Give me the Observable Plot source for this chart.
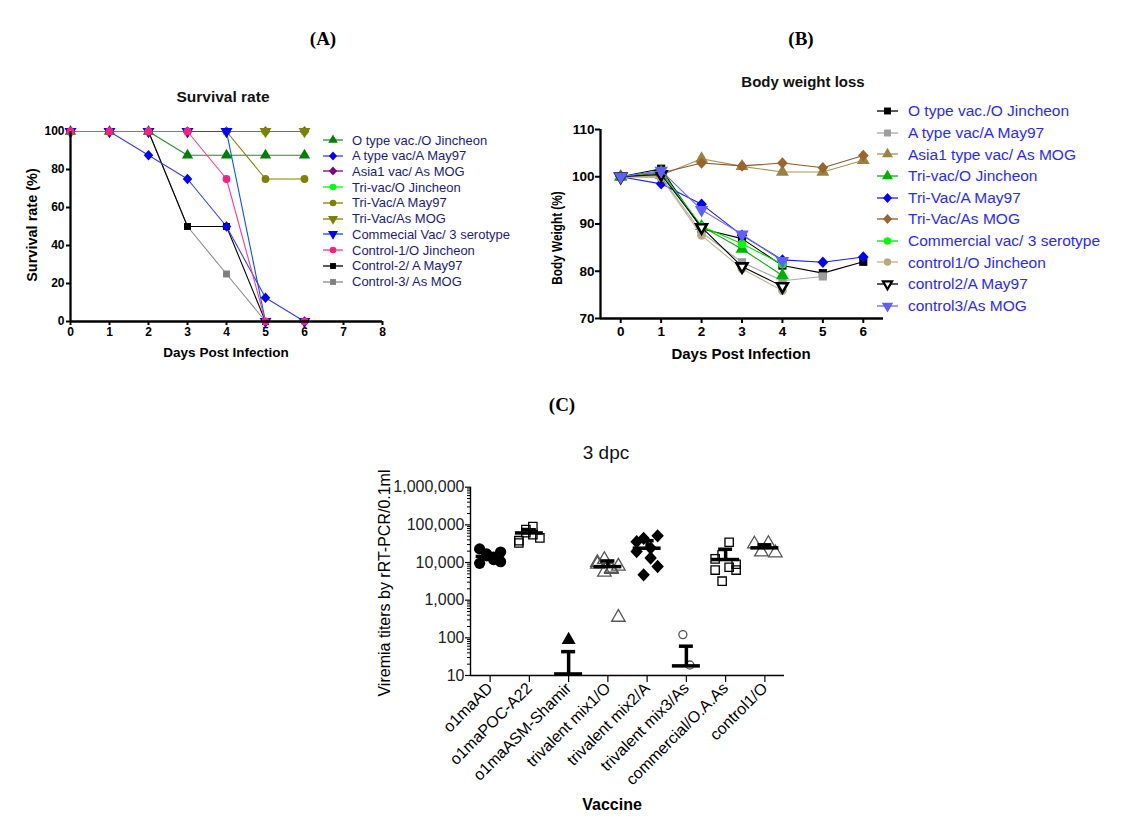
<!DOCTYPE html>
<html><head><meta charset="utf-8">
<script src="https://cdn.jsdelivr.net/npm/d3@7"></script>
<script src="https://cdn.jsdelivr.net/npm/@observablehq/plot@0.6"></script>
<style>
body{margin:0;background:#fff;}
#page{position:relative;width:1124px;height:822px;overflow:hidden;font-family:"Liberation Sans",Arial,sans-serif;color:#000;background:#fff;}
.abs{position:absolute;white-space:nowrap;line-height:1;}
.lrow{position:absolute;display:flex;align-items:center;white-space:nowrap;line-height:1;}
.plotbox{position:absolute;}
.plotbox svg{overflow:visible;}
</style></head>
<body><div id="page"></div>
<script>
// ---------------- DATA ----------------
// (A) Survival rate
const survDays = [0, 1, 2, 3, 4, 5, 6];
const survNames = ["O type vac./O Jincheon", "A type vac/A May97", "Asia1 vac/ As MOG", "Tri-vac/O Jincheon", "Tri-Vac/A May97", "Tri-Vac/As MOG", "Commecial Vac/ 3 serotype", "Control-1/O Jincheon", "Control-2/ A May97", "Control-3/ As MOG"];
const survOtype  = [100, 100, 100, 87.5, 87.5, 87.5, 87.5];
const survAtype  = [100, 100, 87.5, 75, 50, 12.5, 0];
const survAsia1  = [100, 100, 100, 100, 100, 100, 100];
const survTriO   = [100, 100, 100, 100, 100, 100, 100];
const survTriA   = [100, 100, 100, 100, 100, 75, 75];
const survTriAs  = [100, 100, 100, 100, 100, 100, 100];
const survComm   = [100, 100, 100, 100, 100, 0, 0];
const survCtl1   = [100, 100, 100, 100, 75, 0, 0];
const survCtl2   = [100, 100, 100, 50, 50, 0, null];
const survCtl3   = [100, 100, 100, 50, 25, 0, null];
const survXTicks = [0, 1, 2, 3, 4, 5, 6, 7, 8];
const survYTicks = [0, 20, 40, 60, 80, 100];

// (B) Body weight loss
const bwDays = [0, 1, 2, 3, 4, 5, 6];
const bwNames = ["O type vac./O Jincheon", "A type vac/A May97", "Asia1 type vac/ As MOG", "Tri-vac/O Jincheon", "Tri-Vac/A May97", "Tri-Vac/As MOG", "Commercial vac/ 3 serotype", "control1/O Jincheon", "control2/A May97", "control3/As MOG"];
const bwOtype = [100, 101.7, 89.0, 86.9, 81.2, 79.6, 82.0];
const bwAtype = [100, 100.0, 88.2, 81.9, 78.0, 78.9, null];
const bwAsia1 = [100, 100.3, 103.8, 102.2, 101.0, 101.0, 103.5];
const bwTriO  = [100, 101.0, 89.5, 84.7, 79.1, null, null];
const bwTriA  = [100, 98.5, 94.2, 87.6, 82.4, 81.9, 83.0];
const bwTriAs = [100, 100.8, 102.9, 102.3, 102.9, 101.9, 104.5];
const bwComm  = [100, 101.0, 89.5, 85.8, 81.5, null, null];
const bwCtl1  = [100, 99.8, 87.6, 80.5, 75.9, null, null];
const bwCtl2  = [100, 100.5, 89.3, 81.0, 76.8, null, null];
const bwCtl3  = [100, 101.3, 93.0, 87.8, 82.2, null, null];
const bwYTicks = [70, 80, 90, 100, 110];

// (C) Viremia 3 dpc
const vaccines = ["o1maAD", "o1maPOC-A22", "o1maASM-Shamir", "trivalent mix1/O", "trivalent mix2/A", "trivalent mix3/As", "commercial/O.A.As", "control1/O"];
const titerAD    = [23000, 17000, 12000, 19000, 9500, 15000, 14000, 10500];
const titerPOC   = [38000, 75000, 90000, 45000, 33000, 62000, 55000];
const titerASM   = [88];
const titerMix1  = [9000, 12000, 6500, 8000, 10000, 5500, 7000, 350];
const titerMix2  = [35600, 43800, 24400, 51000, 19500, 4700, 13200, 7800];
const titerMix3  = [122, 19];
const titerComm  = [12500, 3200, 34500, 6300, 6300, 16000, 7500, 9000];
const titerCtl   = [31000, 19000, 32000, 18000];
const titerMean  = [14500, 61000, 11, 7800, 24000, 18, 12000, 24500];
const titerUpper = [16500, 74000, 43, 11000, 38000, 60, 22500, 29500];
const titerTicks = [10, 100, 1000, 10000, 100000, 1000000];

// ---------------- HELPERS ----------------
const page = document.getElementById("page");
function addText(txt, cx, cy, style, extraTransform = "") {
  const d = document.createElement("div");
  d.className = "abs";
  d.textContent = txt;
  d.style.left = cx + "px";
  d.style.top = cy + "px";
  d.style.transform = "translate(-50%,-50%) " + extraTransform;
  Object.assign(d.style, style);
  page.appendChild(d);
  return d;
}
function place(node, left, top) {
  const w = document.createElement("div");
  w.className = "plotbox";
  w.style.left = left + "px";
  w.style.top = top + "px";
  w.appendChild(node);
  page.appendChild(w);
}
const S3 = Math.sqrt(3);
const triUp = {draw(ctx, size) { const y = -Math.sqrt(size / (3 * S3)); ctx.moveTo(0, y * 2); ctx.lineTo(-S3 * y, -y); ctx.lineTo(S3 * y, -y); ctx.closePath(); }};
const triDown = {draw(ctx, size) { const y = -Math.sqrt(size / (3 * S3)); ctx.moveTo(0, -y * 2); ctx.lineTo(-S3 * y, y); ctx.lineTo(S3 * y, y); ctx.closePath(); }};
const diamond = {draw(ctx, size) { const r = Math.sqrt(size) * 0.62625; ctx.moveTo(0, -r * 1.08); ctx.lineTo(r, 0); ctx.lineTo(0, r * 1.08); ctx.lineTo(-r, 0); ctx.closePath(); }};
const circle = d3.symbolCircle;
const square = d3.symbolSquare;

function legend(x0, y0, dy, items, opts) {
  items.forEach((it, i) => {
    const row = document.createElement("div");
    row.className = "lrow";
    row.style.left = x0 + "px";
    row.style.top = (y0 + i * dy - opts.h / 2) + "px";
    row.style.height = opts.h + "px";
    const svg = d3.create("svg").attr("width", opts.w).attr("height", opts.h).style("flex", "none");
    svg.append("line").attr("x1", 0).attr("x2", opts.w).attr("y1", opts.h / 2).attr("y2", opts.h / 2)
      .attr("stroke", it.line).attr("stroke-width", 1.3);
    svg.append("path").attr("transform", `translate(${opts.w / 2},${opts.h / 2})`)
      .attr("d", d3.symbol(it.symbol, Math.PI * it.r * it.r)())
      .attr("fill", it.fill).attr("stroke", it.stroke || "none").attr("stroke-width", it.sw || 0);
    const t = document.createElement("span");
    t.textContent = it.name;
    t.style.marginLeft = opts.gap + "px";
    t.style.fontSize = opts.fontSize;
    t.style.color = opts.color;
    row.appendChild(svg.node());
    row.appendChild(t);
    page.appendChild(row);
  });
}

// ---------------- PANEL TITLES ----------------
addText("(A)", 323, 38, {fontFamily: "'Liberation Serif','Times New Roman',serif", fontWeight: "bold", fontSize: "19px"});
addText("(B)", 801, 38, {fontFamily: "'Liberation Serif','Times New Roman',serif", fontWeight: "bold", fontSize: "19px"});
addText("(C)", 562, 404, {fontFamily: "'Liberation Serif','Times New Roman',serif", fontWeight: "bold", fontSize: "19px"});

// ---------------- PANEL A ----------------
const survValues = [survOtype, survAtype, survAsia1, survTriO, survTriA, survTriAs, survComm, survCtl1, survCtl2, survCtl3];
const survColors = ["#008000", "#0000ff", "#800080", "#00ff00", "#808000", "#808000", "#0000ff", "#ff1f80", "#000000", "#808080"];
const survLine   = ["#2e8b2e", "#3a3aff", "#800080", "#00ff00", "#808000", "#808000", "#0050ff", "#ff3a8a", "#000000", "#8c8c8c"];
const survSym    = [triUp, diamond, diamond, circle, circle, triDown, triDown, circle, square, square];
const survR      = [4.2, 4.3, 4.3, 3.9, 3.9, 4.4, 4.4, 3.9, 3.9, 3.9];
const orderA = [9, 8, 0, 1, 2, 3, 4, 5, 6, 7];
const marksA = [];
for (const k of orderA) {
  const rows = survDays.map((d, i) => ({day: d, value: survValues[k][i]})).filter(r => r.value != null);
  marksA.push(Plot.line(rows, {x: "day", y: "value", stroke: survLine[k], strokeWidth: 1.1}));
}
for (const k of orderA) {
  const rows = survDays.map((d, i) => ({day: d, value: survValues[k][i]})).filter(r => r.value != null);
  marksA.push(Plot.dot(rows, {x: "day", y: "value", symbol: survSym[k], r: survR[k], fill: survColors[k], stroke: "none"}));
}
const plotA = Plot.plot({
  width: 400, height: 290, marginTop: 51, marginBottom: 49, marginLeft: 70, marginRight: 18,
  style: {fontFamily: "Liberation Sans, Arial, sans-serif", fontSize: "12px", fontWeight: "bold", color: "#000", background: "transparent"},
  x: {domain: [0, 8]},
  y: {domain: [0, 100]},
  marks: [
    Plot.axisX({ticks: survXTicks, tickFormat: d3.format("d"), tickSize: 4, tickPadding: 2, strokeWidth: 2, label: null}),
    Plot.axisY({ticks: survYTicks, tickFormat: d3.format("d"), tickSize: 4, tickPadding: 2, strokeWidth: 2, label: null}),
    ...marksA,
    Plot.ruleX([0], {y1: 0, y2: 100, strokeWidth: 2.3, stroke: "#000"}),
    Plot.ruleY([0], {x1: 0, x2: 8, strokeWidth: 2.3, stroke: "#000"})
  ]
});
place(plotA, 0, 80);
addText("Survival rate", 223, 97, {fontWeight: "bold", fontSize: "15.5px", color: "#111"});
addText("Days Post Infection", 226, 353, {fontWeight: "bold", fontSize: "13.5px"});
addText("Survival rate (%)", 32, 225, {fontWeight: "bold", fontSize: "14.5px"}, "rotate(-90deg)");
legend(323, 140, 15.74, survNames.map((n, k) => ({name: n, line: survLine[k], fill: survColors[k], symbol: survSym[k], r: survR[k] * 0.85})),
  {w: 20, h: 14, gap: 9, fontSize: "13px", color: "#1c1c78"});

// ---------------- PANEL B ----------------
const bwValues = [bwOtype, bwAtype, bwAsia1, bwTriO, bwTriA, bwTriAs, bwComm, bwCtl1, bwCtl2, bwCtl3];
const bwFill   = ["#000000", "#9d9d9d", "#9a8240", "#00b000", "#0000ff", "#99652d", "#00ff00", "#b8aa80", "#ffffff", "#6060ff"];
const bwStroke = ["none", "none", "none", "none", "none", "none", "none", "none", "#000000", "none"];
const bwLine   = ["#000000", "#a8a8a8", "#a8945a", "#00b000", "#1a1aff", "#8b5a2b", "#00e600", "#beb08c", "#000000", "#6a6aff"];
const bwSym    = [square, square, triUp, triUp, diamond, diamond, circle, circle, triDown, triDown];
const bwR      = [4.6, 4.6, 4.8, 4.8, 4.8, 4.8, 4.4, 4.4, 4.0, 5.0];
const marksB = [];
for (let k = 0; k < bwValues.length; k++) {
  const rows = bwDays.map((d, i) => ({day: d, value: bwValues[k][i]})).filter(r => r.value != null);
  marksB.push(Plot.line(rows, {x: "day", y: "value", stroke: bwLine[k], strokeWidth: 1.1}));
  marksB.push(Plot.dot(rows, {x: "day", y: "value", symbol: bwSym[k], r: bwR[k], fill: bwFill[k], stroke: bwStroke[k], strokeWidth: bwStroke[k] === "none" ? 0 : 2.6}));
}
const plotB = Plot.plot({
  width: 350, height: 250, marginTop: 29, marginBottom: 32, marginLeft: 60, marginRight: 7,
  style: {fontFamily: "Liberation Sans, Arial, sans-serif", fontSize: "13.5px", fontWeight: "bold", color: "#000", background: "transparent"},
  x: {domain: [-0.5, 6.5]},
  y: {domain: [70, 110]},
  marks: [
    Plot.axisX({ticks: bwDays, tickFormat: d3.format("d"), tickSize: 5, tickPadding: 3, strokeWidth: 2, label: null}),
    Plot.axisY({ticks: bwYTicks, tickFormat: d3.format("d"), tickSize: 5, tickPadding: 1, strokeWidth: 2, label: null}),
    Plot.ruleX([-0.5], {y1: 70, y2: 110, strokeWidth: 2.3, stroke: "#000"}),
    Plot.ruleY([70], {x1: -0.5, x2: 6.5, strokeWidth: 2.3, stroke: "#000"}),
    ...marksB
  ]
});
place(plotB, 540, 100);
addText("Body weight loss", 803, 81, {fontWeight: "bold", fontSize: "15px", color: "#111"});
addText("Days Post Infection", 741, 353, {fontWeight: "bold", fontSize: "15px"});
addText("Body Weight (%)", 557, 238, {fontWeight: "bold", fontSize: "15.5px"}, "rotate(-90deg) scaleX(0.76)");
legend(877, 111, 21.63, bwNames.map((n, k) => ({name: n, line: bwLine[k], fill: bwFill[k], stroke: bwStroke[k], sw: bwStroke[k] === "none" ? 0 : 2.2, symbol: bwSym[k], r: bwR[k] * 0.85})),
  {w: 21, h: 16, gap: 10, fontSize: "15.5px", color: "#2a2aff"});

// ---------------- PANEL C ----------------
const titerGroups = [titerAD, titerPOC, titerASM, titerMix1, titerMix2, titerMix3, titerComm, titerCtl];
const gSym    = [circle, square, triUp, triUp, diamond, circle, square, triUp];
const gFill   = ["#000", "none", "#000", "none", "#000", "none", "none", "none"];
const gStroke = ["none", "#000", "none", "#555", "none", "#555", "#000", "#555"];
const gR      = [5.6, 4.7, 5.2, 5.0, 5.6, 4.0, 4.7, 5.0];
const stepPx = 314 / 8; // px per category on the x scale
const jitter = (i, n) => { const k = Math.min(n, 4); return ((i % k) - (k - 1) / 2) * 7 / stepPx; };
const marksC = [];
titerGroups.forEach((vals, g) => {
  const rows = vals.map((v, i) => ({x: g + jitter(i, vals.length), v}));
  marksC.push(Plot.dot(rows, {x: "x", y: "v", symbol: gSym[g], r: gR[g], fill: gFill[g], stroke: gStroke[g], strokeWidth: 1.3}));
});
const stats = vaccines.map((name, g) => ({g, mean: titerMean[g], upper: titerUpper[g]}));
const half = 14 / stepPx, capHalf = 7 / stepPx;
const minorTicks = [];
for (let e = 1; e < 6; e++) for (let m = 2; m <= 9; m++) minorTicks.push(m * 10 ** e);
const plotC = Plot.plot({
  width: 420, height: 340, marginTop: 16.7, marginBottom: 135, marginLeft: 90, marginRight: 16,
  style: {fontFamily: "Liberation Sans, Arial, sans-serif", fontSize: "16px", color: "#000", background: "transparent"},
  x: {domain: [-0.5, 7.5]},
  y: {type: "log", domain: [10, 1000000]},
  marks: [
    Plot.axisY({ticks: minorTicks, tickSize: 3, tickFormat: () => "", label: null, strokeWidth: 1}),
    Plot.axisY({ticks: titerTicks, tickSize: 5, tickPadding: 1, tickFormat: d3.format(","), label: null, strokeWidth: 1.2, fill: "#222"}),
    Plot.axisX({ticks: d3.range(vaccines.length), tickFormat: i => vaccines[i], tickRotate: -45, tickSize: 7, tickPadding: 3, label: null, strokeWidth: 1.2}),
    Plot.ruleX([-0.5], {y1: 10, y2: 1000000, strokeWidth: 1.4, stroke: "#000"}),
    Plot.ruleY([10], {x1: -0.5, x2: 7.5, strokeWidth: 1.4, stroke: "#000"}),
    ...marksC,
    Plot.ruleX(stats, {x: "g", y1: "mean", y2: "upper", strokeWidth: 3.5, stroke: "#000"}),
    Plot.ruleY(stats, {x1: d => d.g - capHalf, x2: d => d.g + capHalf, y: "upper", strokeWidth: 3.5, stroke: "#000"}),
    Plot.ruleY(stats, {x1: d => d.g - half, x2: d => d.g + half, y: "mean", strokeWidth: 3.5, stroke: "#000"})
  ]
});
place(plotC, 380, 470);
addText("3 dpc", 606, 452, {fontSize: "19px", color: "#111"});
addText("Vaccine", 612, 805, {fontWeight: "bold", fontSize: "16px"});
addText("Viremia titers by rRT-PCR/0.1ml", 385, 583, {fontSize: "16px"}, "rotate(-90deg)");
</script></body></html>
